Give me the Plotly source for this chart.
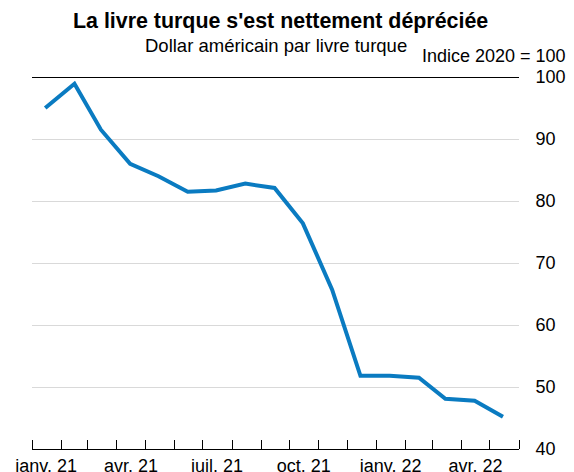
import plotly.graph_objects as go

# Monthly average, US dollar per Turkish lira, index 2020 = 100
months = ["2021-01-15", "2021-02-15", "2021-03-15", "2021-04-15", "2021-05-15",
          "2021-06-15", "2021-07-15", "2021-08-15", "2021-09-15", "2021-10-15",
          "2021-11-15", "2021-12-15", "2022-01-15", "2022-02-15", "2022-03-15",
          "2022-04-15", "2022-05-15"]
index_values = [95.0, 98.9, 91.5, 86.0, 84.0, 81.5, 81.7, 82.8, 82.1, 76.4,
                65.7, 51.8, 51.8, 51.5, 48.1, 47.8, 45.2]

# Labelled quarters (label sits mid-month) and monthly boundary ticks
label_dates = ["2021-01-16", "2021-04-16", "2021-07-16", "2021-10-16",
               "2022-01-16", "2022-04-16"]
label_text = ["janv. 21", "avr. 21", "juil. 21", "oct. 21", "janv. 22", "avr. 22"]
month_starts = ["2021-%02d-01" % m for m in range(1, 13)] + \
               ["2022-%02d-01" % m for m in range(1, 7)]

y_ticks = [40, 50, 60, 70, 80, 90, 100]

FONT = "Liberation Sans, Arial, sans-serif"

fig = go.Figure()
fig.add_trace(go.Scatter(
    x=months, y=index_values, mode="lines",
    line=dict(color="#0a7bc1", width=4),
    hoverinfo="x+y", showlegend=False,
))

# Heavy reference line at the index base
fig.add_hline(y=100, line=dict(color="black", width=2), layer="above")

fig.update_layout(
    width=574, height=472,
    margin=dict(l=32, r=55, t=77, b=23),
    plot_bgcolor="white", paper_bgcolor="white",
    font=dict(family=FONT, size=18, color="black"),
    showlegend=False,
    xaxis=dict(
        type="date", automargin=False,
        range=["2021-01-01", "2022-06-01"],
        tickmode="array", tickvals=label_dates, ticktext=label_text,
        ticks="", showgrid=False, zeroline=False,
        showline=True, linecolor="black", linewidth=1.2,
        tickfont=dict(size=18),
        minor=dict(tickmode="array", tickvals=month_starts, ticks="inside",
                   ticklen=9, tickwidth=1, tickcolor="black", showgrid=False),
    ),
    yaxis=dict(
        side="right", range=[40, 100], automargin=False,
        tickmode="array", tickvals=y_ticks,
        showgrid=True, gridcolor="#d9d9d9", gridwidth=1,
        zeroline=False, showline=False,
        ticks="outside", ticklen=12, tickcolor="rgba(0,0,0,0)",
        tickfont=dict(size=18),
    ),
    annotations=[
        dict(text="<b>La livre turque s'est nettement dépréciée</b>",
             xref="paper", yref="paper", x=0.510, y=1.151,
             xanchor="center", yanchor="middle", showarrow=False,
             font=dict(size=21.4, family=FONT)),
        dict(text="Dollar américain par livre turque",
             xref="paper", yref="paper", x=0.502, y=1.0855,
             xanchor="center", yanchor="middle", showarrow=False,
             font=dict(size=18.5, family=FONT)),
        dict(text="Indice 2020 = 100",
             xref="paper", yref="paper", x=1.1006, y=1.0554,
             xanchor="right", yanchor="middle", showarrow=False,
             font=dict(size=18, family=FONT)),
    ],
)

fig.write_html("out.html")
